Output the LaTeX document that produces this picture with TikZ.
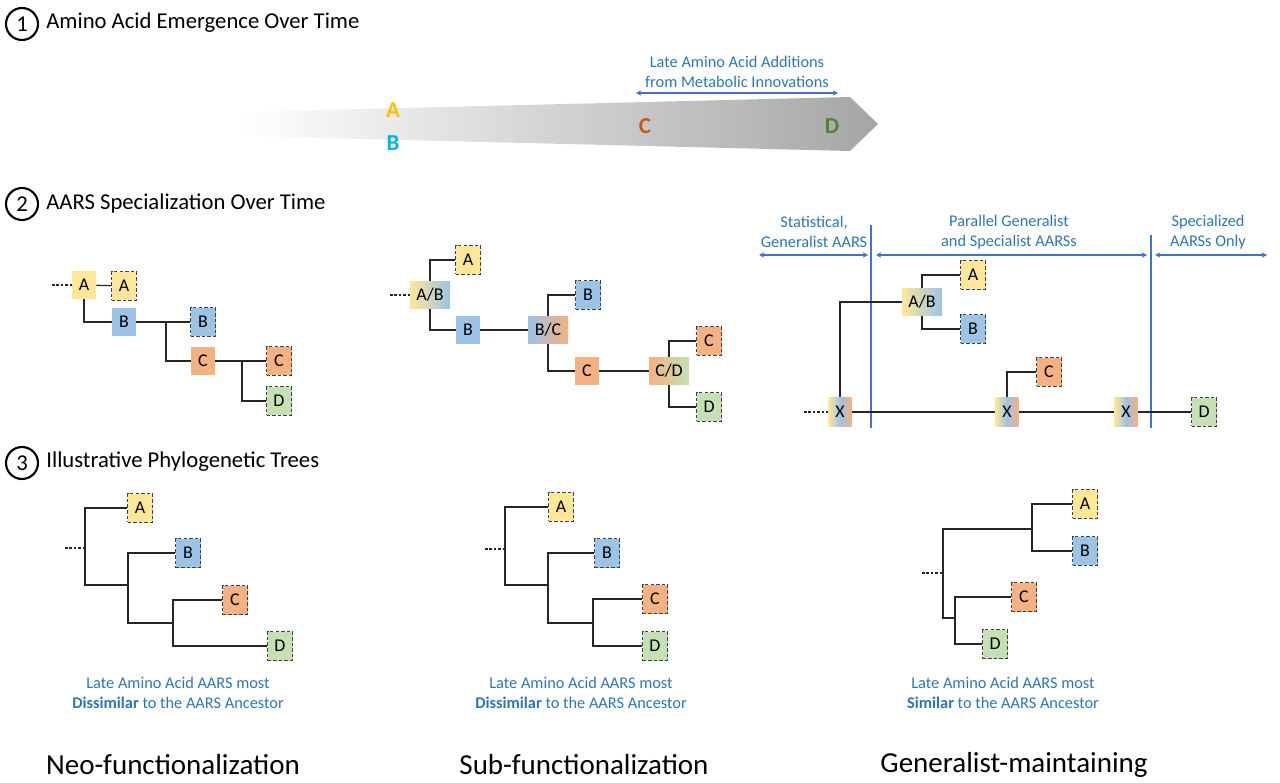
\documentclass[tikz,border=0pt]{standalone}
\usepackage{fontspec}
\setmainfont{Carlito}
\usetikzlibrary{arrows.meta}
\definecolor{aaY}{HTML}{FFE699}
\definecolor{aaB}{HTML}{9DC3E6}
\definecolor{aaC}{HTML}{F4B183}
\definecolor{aaD}{HTML}{C5E0B4}
\definecolor{txtblue}{HTML}{2E75B6}
\definecolor{lnblue}{HTML}{4472C4}
\begin{document}
\begin{tikzpicture}[x=0.02cm,y=-0.02cm,
  every node/.style={inner sep=0pt},
  br/.style={line width=0.7pt, black!85},
  stub/.style={line width=0.6pt, black!85, dash pattern=on 1.5pt off 1pt},
  anc/.style={minimum width=0.48cm, minimum height=0.56cm, font=\fontsize{10.2}{11}\selectfont},
  leaf/.style={anc, minimum width=0.5cm, minimum height=0.58cm, draw=black!75, line width=0.6pt, dash pattern=on 2pt off 1.2pt},
  mix/.style={anc, minimum width=0.8cm},
  xbox/.style={anc, minimum width=0.46cm, minimum height=0.6cm, left color=aaY, right color=aaC, middle color=aaB},
  span/.style={{Stealth[length=3pt,width=3pt]}-{Stealth[length=3pt,width=3pt]}, lnblue, line width=0.6pt},
  divider/.style={lnblue, line width=0.6pt},
  note/.style={txtblue, align=center, font=\fontsize{9.3}{11.3}\selectfont},
  head/.style={anchor=west, font=\fontsize{12.9}{14}\selectfont},
  num/.style={circle, draw, line width=1.2pt, minimum size=0.64cm, font=\fontsize{12.9}{14}\selectfont},
  emerge/.style={font=\bfseries\fontsize{13}{14}\selectfont},
  caption/.style={font=\fontsize{16.5}{18}\selectfont}
]
\useasboundingbox (0,0) rectangle (1280,783);

\node[num] (n1) at (22,24) {1};
\node[head] (h1) at (46,23) {Amino Acid Emergence Over Time};
\shade[left color=white, right color=black!35] (240,112) -- (850,97) -- (878,124) -- (850,151) -- (240,136) -- cycle;
\node[emerge, text={rgb,255:red,255;green,192;blue,0}] (eA) at (393,110) {A};
\node[emerge, text={rgb,255:red,0;green,176;blue,240}] (eB) at (393,143) {B};
\node[emerge, text={rgb,255:red,197;green,90;blue,17}] (eC) at (645,126) {C};
\node[emerge, text={rgb,255:red,84;green,130;blue,53}] (eD) at (832,126) {D};
\node[note] (late) at (737,72) {Late Amino Acid Additions\\from Metabolic Innovations};
\coordinate (lateL) at (636,93);
\coordinate (lateR) at (838,93);
\draw[span] (lateL) -- (lateR);

\node[num] (n2) at (22,204) {2};
\node[head] (h2) at (46,203) {AARS Specialization Over Time};

\coordinate (s2a0) at (52,285);
\node[anc, fill=aaY] (s2aA) at (84,285) {A};
\node[leaf, fill=aaY] (s2aAl) at (124,286) {A};
\node[anc, fill=aaB] (s2aB) at (124,322) {B};
\node[leaf, fill=aaB] (s2aBl) at (203,322) {B};
\node[anc, fill=aaC] (s2aC) at (203,361) {C};
\node[leaf, fill=aaC] (s2aCl) at (279,361) {C};
\node[leaf, fill=aaD] (s2aDl) at (279,401) {D};
\coordinate (s2ak1) at (166,322);
\coordinate (s2ak2) at (242,361);
\draw[stub] (s2a0) -- (s2aA);
\draw[br] (s2aA) -- (s2aAl);
\draw[br] (s2aA) |- (s2aB);
\draw[br] (s2aB) -- (s2aBl);
\draw[br] (s2ak1) |- (s2aC);
\draw[br] (s2aC) -- (s2aCl);
\draw[br] (s2ak2) |- (s2aDl);

\coordinate (s2b0) at (390,295);
\node[mix, left color=aaY, right color=aaB] (s2bAB) at (430,295) {A/B};
\node[leaf, fill=aaY] (s2bAl) at (468,260) {A};
\node[anc, fill=aaB] (s2bB) at (468,330) {B};
\node[mix, left color=aaB, right color=aaC] (s2bBC) at (548,330) {B/C};
\node[leaf, fill=aaB] (s2bBl) at (588,295) {B};
\node[anc, fill=aaC] (s2bC) at (587,371) {C};
\node[mix, left color=aaC, right color=aaD] (s2bCD) at (669,371) {C/D};
\node[leaf, fill=aaC] (s2bCl) at (709,341) {C};
\node[leaf, fill=aaD] (s2bDl) at (709,407) {D};
\draw[stub] (s2b0) -- (s2bAB);
\draw[br] (s2bAB) |- (s2bAl);
\draw[br] (s2bAB) |- (s2bB);
\draw[br] (s2bB) -- (s2bBC);
\draw[br] (s2bBC) |- (s2bBl);
\draw[br] (s2bBC) |- (s2bC);
\draw[br] (s2bC) -- (s2bCD);
\draw[br] (s2bCD) |- (s2bCl);
\draw[br] (s2bCD) |- (s2bDl);

\node[note] (hStat) at (814,232) {Statistical,\\Generalist AARS};
\node[note] (hPar) at (1009,232) {Parallel Generalist\\and Specialist AARSs};
\node[note] (hSpec) at (1208,232) {Specialized\\AARSs Only};
\coordinate (sp1) at (759,255);
\coordinate (sp2) at (868,255);
\coordinate (sp3) at (876,255);
\coordinate (sp4) at (1147,255);
\coordinate (sp5) at (1155,255);
\coordinate (sp6) at (1267,255);
\draw[span] (sp1) -- (sp2);
\draw[span] (sp3) -- (sp4);
\draw[span] (sp5) -- (sp6);
\coordinate (dv1t) at (871,225);
\coordinate (dv1b) at (871,428);
\coordinate (dv2t) at (1151,235);
\coordinate (dv2b) at (1151,428);
\draw[divider] (dv1t) -- (dv1b);
\draw[divider] (dv2t) -- (dv2b);

\coordinate (s2c0) at (804,412);
\node[xbox] (s2cX1) at (840,412) {X};
\node[xbox] (s2cX2) at (1007,412) {X};
\node[xbox] (s2cX3) at (1126,412) {X};
\node[leaf, fill=aaD] (s2cDl) at (1204,412) {D};
\node[mix, left color=aaY, right color=aaB] (s2cAB) at (922,302) {A/B};
\node[leaf, fill=aaY] (s2cAl) at (973,275) {A};
\node[leaf, fill=aaB] (s2cBl) at (973,329) {B};
\node[leaf, fill=aaC] (s2cCl) at (1049,372) {C};
\draw[stub] (s2c0) -- (s2cX1);
\draw[br] (s2cX1) -- (s2cX2) -- (s2cX3) -- (s2cDl);
\draw[br] (s2cX1) |- (s2cAB);
\draw[br] (s2cAB) |- (s2cAl);
\draw[br] (s2cAB) |- (s2cBl);
\draw[br] (s2cX2) |- (s2cCl);

\node[num] (n3) at (22,463) {3};
\node[head] (h3) at (46,462) {Illustrative Phylogenetic Trees};

\coordinate (t1s) at (65,548);
\coordinate (t1r) at (85,548);
\coordinate (t1k1) at (128,585);
\coordinate (t1k2) at (173,623);
\node[leaf, fill=aaY] (t1A) at (140,508) {A};
\node[leaf, fill=aaB] (t1B) at (188,553) {B};
\node[leaf, fill=aaC] (t1C) at (235,600) {C};
\node[leaf, fill=aaD] (t1D) at (280,646) {D};
\draw[stub] (t1s) -- (t1r);
\draw[br] (t1r) |- (t1A);
\draw[br] (t1r) |- (t1k1);
\draw[br] (t1k1) |- (t1B);
\draw[br] (t1k1) |- (t1k2);
\draw[br] (t1k2) |- (t1C);
\draw[br] (t1k2) |- (t1D);
\node[note] (t1n) at (178,693) {Late Amino Acid AARS most\\\textbf{Dissimilar} to the AARS Ancestor};

\coordinate (t2s) at (485,549);
\coordinate (t2r) at (505,549);
\coordinate (t2k1) at (548,585);
\coordinate (t2k2) at (593,623);
\node[leaf, fill=aaY] (t2A) at (561,507) {A};
\node[leaf, fill=aaB] (t2B) at (607,553) {B};
\node[leaf, fill=aaC] (t2C) at (655,599) {C};
\node[leaf, fill=aaD] (t2D) at (655,646) {D};
\draw[stub] (t2s) -- (t2r);
\draw[br] (t2r) |- (t2A);
\draw[br] (t2r) |- (t2k1);
\draw[br] (t2k1) |- (t2B);
\draw[br] (t2k1) |- (t2k2);
\draw[br] (t2k2) |- (t2C);
\draw[br] (t2k2) |- (t2D);
\node[note] (t2n) at (581,693) {Late Amino Acid AARS most\\\textbf{Dissimilar} to the AARS Ancestor};

\coordinate (t3s) at (922,573);
\coordinate (t3r) at (943,573);
\coordinate (t3k1) at (1032,529);
\coordinate (t3k2) at (955,618);
\node[leaf, fill=aaY] (t3A) at (1085,504) {A};
\node[leaf, fill=aaB] (t3B) at (1085,551) {B};
\node[leaf, fill=aaC] (t3C) at (1024,597) {C};
\node[leaf, fill=aaD] (t3D) at (995,644) {D};
\draw[stub] (t3s) -- (t3r);
\draw[br] (t3r) |- (t3k1);
\draw[br] (t3r) |- (t3k2);
\draw[br] (t3k1) |- (t3A);
\draw[br] (t3k1) |- (t3B);
\draw[br] (t3k2) |- (t3C);
\draw[br] (t3k2) |- (t3D);
\node[note] (t3n) at (1003,693) {Late Amino Acid AARS most\\\textbf{Similar} to the AARS Ancestor};

\node[caption] (c1) at (173,765) {Neo-functionalization};
\node[caption] (c2) at (584,765) {Sub-functionalization};
\node[caption] (c3) at (1014,765) {Generalist-maintaining};
\end{tikzpicture}
\end{document}
